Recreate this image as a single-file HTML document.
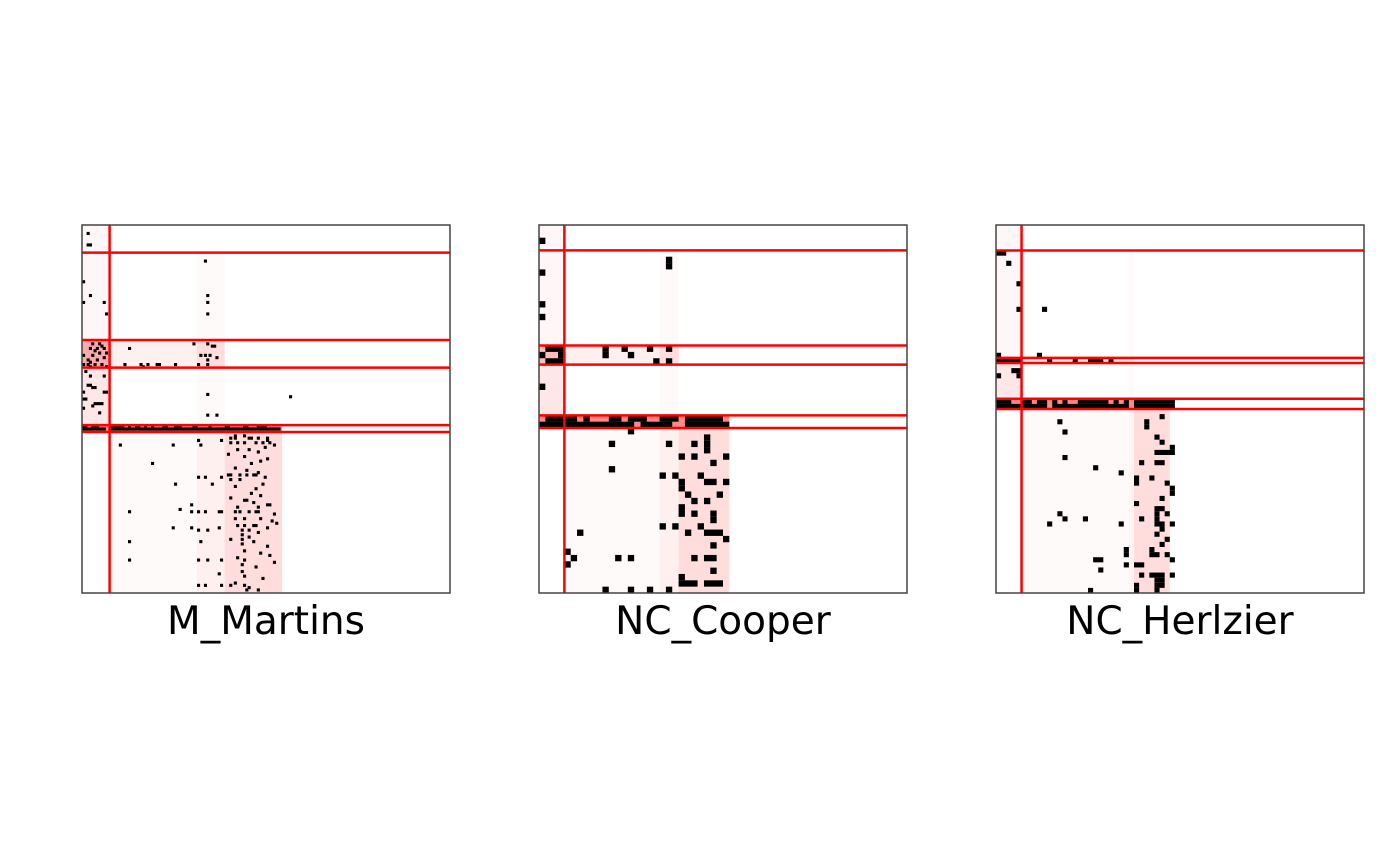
<!DOCTYPE html>
<html><head><meta charset="utf-8">
<style>
html,body{margin:0;padding:0;background:#fff;width:1400px;height:865px;overflow:hidden;}
svg{display:block;}
text{font-family:"DejaVu Sans","Liberation Sans",sans-serif;}
</style></head>
<body>
<svg id="chart" width="1400" height="865" viewBox="0 0 1400 865" xmlns="http://www.w3.org/2000/svg"></svg>
<script>
// ---- data ----
const panelTitles = ["M_Martins", "NC_Cooper", "NC_Herlzier"];
const gridSizes = [160, 58, 72];
const rowLines1 = [12, 50, 62, 87, 90];
const colLines1 = [12];
const rowLines2 = [4, 19, 22, 30, 32];
const colLines2 = [4];
const rowLines3 = [5, 26, 27, 34, 36];
const colLines3 = [5];
// shaded blocks: [rowStart,rowEnd,colStart,colEnd,intensity 0..1]
const shades1 = [[0,50,0,12,0.05],[50,62,0,12,0.5],[62,87,0,12,0.14],[12,160,50,62,0.03],[50,62,12,62,0.09],[50,62,50,62,0.2],[87,90,0,87,0.7],[90,160,12,50,0.03],[90,160,50,62,0.09],[90,160,62,87,0.2]];
const shades2 = [[0,19,0,4,0.05],[19,22,0,4,0.4],[22,30,0,4,0.14],[4,160,19,22,0.03],[19,22,4,22,0.09],[19,22,19,22,0.2],[30,32,0,30,0.7],[32,58,4,19,0.03],[32,58,19,22,0.09],[32,58,22,30,0.2]];
const shades3 = [[0,26,0,5,0.05],[26,27,0,5,0.4],[27,34,0,5,0.14],[5,72,26,27,0.03],[26,27,5,27,0.09],[34,36,0,34,0.7],[36,72,5,26,0.03],[36,72,26,27,0.07],[36,72,27,34,0.2]];
// dots: [row,col,(runLength)]
const dots1 = [[3,2],[8,2,2],[24,0],[30,3],[33,0],[33,9],[38,10],[15,53],[30,54],[33,54],[38,54],
[51,4],[51,7],[52,8],[53,3],[53,6],[53,9],[54,5],[55,7],[55,10],[56,0],[56,4],[57,9],[58,2],[58,6],[59,3],[60,0],[60,2],[60,5],[60,8],[61,3],[61,10],
[53,20],[51,48],[51,54],[52,56,2],[56,51],[56,53],[56,55],[57,58],[58,54],[60,18],[60,25],[60,28],[60,32,2],[60,40],[60,50],[60,54],[61,26],
[63,1],[65,3],[65,9],[69,2,2],[70,4,2],[72,0],[72,9,2],[75,0,2],[77,5,4],[78,4],[79,0],[81,7],[73,54],[74,90],[82,54],[82,58],
[87,0,2],[87,4,3],[87,12,6],[87,20],[87,23,2],[87,27],[87,30],[87,35,2],[87,40,3],[87,48,2],[87,55],[87,62,2],[87,70,2],[87,76,4],[88,0,10],[88,12,74],
[95,16],[103,30],[95,39],[93,50],[95,51],[93,60],[124,20],[112,40],[109,50],[109,53],[112,56],[109,60],[121,47],[123,42],[124,47],[124,50],[124,53],[124,59,2],[131,39],[131,47],[132,50],[132,54],[131,59],[137,20],[137,51],[145,20],[145,50],[145,54],[145,60],[151,59],[156,50],[156,53],[156,60],
[91,66],[91,70],[92,64],[92,66],[92,72,2],[92,76],[92,80],[93,80],[94,64],[94,67],[94,70],[94,75],[94,78],[94,81],[95,83],[96,79],[97,67],[97,72],[98,76],[99,63],[100,70],[101,80],[102,77],[103,73],[105,66],[106,71],[107,76],[108,63,2],[108,68],[108,71],[108,74,2],[109,79],[110,64],[110,68],[112,78],[113,66],[114,75],[116,73],[117,77],[118,64],[119,70,2],[120,74],[121,80,2],[122,67],[122,76],[124,66],[124,68],[124,72],[124,75,2],[125,83],[127,66],[127,70],[127,77],[128,82],[129,84],[130,67],[130,70],[130,74,2],[131,80],[132,69],[132,72],[133,76],[134,69],[135,72],[136,64],[136,69],[137,74],[138,69],[139,80],[141,70],[142,77],[143,81],[144,67],[145,70],[146,83],[147,69],[148,75],[150,69],[152,70],[153,78],[155,66],[156,64],[156,70],[157,72],[158,71],[158,76]];
const dots2 = [[2,0],[5,20],[6,20],[7,0],[12,0],[14,0],
[19,1,3],[20,0],[20,3],[21,1,3],[19,10],[20,10],[19,13],[20,14],[19,17],[21,18],[19,20],[21,20],[25,0],
[30,1,3],[30,4,2],[30,7],[30,11,2],[30,14,3],[30,19,3],[30,23,6],[31,0,15],[31,16,5],[31,23,7],
[32,14],[34,11],[34,20],[34,24],[33,26],[34,26],[35,26],[36,22],[36,24],[36,29],[37,27],[38,11],[39,19],[39,21],[39,25],[40,22],[41,22],[40,26,2],[40,29],[42,23],[42,28],[43,24],[43,26],[44,22],[45,22],[45,24],[45,27],[46,27],[47,19],[47,21],[47,25],[48,6],[48,23],[48,26,3],[49,29],[50,27],[51,4],[52,5],[53,4],[52,12],[52,14],[52,24],[52,26,2],[54,27],[55,22],[56,22,3],[56,26,3],[57,10],[57,14],[57,17],[57,20]];
const dots3 = [[5,0,2],[7,2],[11,4],[16,4],[16,9],[25,0],[25,8],
[26,0,5],[26,10],[26,15],[26,18,3],[26,22],[28,3,2],[29,0],[29,4],
[34,0,3],[34,5,2],[34,8,2],[34,11],[34,13],[34,16,6],[34,23],[34,25],[34,27,8],[35,0,10],[35,11,15],[35,27,8],
[37,32],[38,12],[38,29],[39,29],[40,13],[41,31],[42,32],[43,34],[44,31,4],[45,13],[46,28],[46,31,2],[47,19],[48,24],[49,27],[50,27],[49,30],[50,33],[51,34],[52,34],[53,32],[54,27],[55,31,2],[56,31],[56,12],[56,33],[57,13],[57,17],[57,28],[57,31],[58,31,2],[58,34],[58,10],[58,24],[59,32],[60,31],[61,33],[62,32],[63,25],[64,25],[63,30],[64,30,2],[64,33],[65,34],[65,19,2],[66,25],[66,27,2],[67,20],[68,28],[68,30,3],[69,31,2],[70,31,2],[68,34],[71,18],[70,27],[71,27],[71,31]];

// ---- layout ----
const svg = document.getElementById('chart');
const NS = 'http://www.w3.org/2000/svg';
const panelLeft = [82, 539, 996];
const panelTop = 225, panelSize = 368;
const dotScale = [1.35, 1, 1];
const rowLinesAll = [rowLines1, rowLines2, rowLines3];
const colLinesAll = [colLines1, colLines2, colLines3];
const shadesAll = [shades1, shades2, shades3];
const dotsAll = [dots1, dots2, dots3];

function mk(tag, attrs, parent){
  const e = document.createElementNS(NS, tag);
  for (const k in attrs) e.setAttribute(k, attrs[k]);
  parent.appendChild(e);
  return e;
}
function shadeColor(t){
  const gb = Math.round(255 - t * 170);
  return 'rgb(255,' + gb + ',' + gb + ')';
}

for (let p = 0; p < 3; p++) {
  const n = gridSizes[p];
  const cell = panelSize / n;
  const dsz = cell * dotScale[p];
  const x0 = panelLeft[p];
  const xs = c => x0 + c * cell;
  const ys = r => panelTop + r * cell;
  const g = mk('g', {}, svg);
  
  
  const clip = mk('clipPath', {id: 'clip' + p}, g);
  mk('rect', {x: x0, y: panelTop, width: panelSize, height: panelSize}, clip);
  const inner = mk('g', {'clip-path': 'url(#clip' + p + ')'}, g);

  shadesAll[p].forEach(s => {
    const r = mk('rect', {x: xs(s[2]), y: ys(s[0]), width: (s[3]-s[2])*cell, height: (s[1]-s[0])*cell, fill: shadeColor(s[4])}, inner);
    
    
  });
  dotsAll[p].forEach(d => {
    const len = d[2] || 1;
    const r = mk('rect', {x: xs(d[1]), y: ys(d[0]), width: (len-1)*cell + dsz, height: dsz, fill: '#000'}, inner);
    
    
  });
  rowLinesAll[p].forEach(v => {
    const l = mk('line', {x1: x0, x2: x0 + panelSize, y1: ys(v), y2: ys(v), stroke: '#ff0000', 'stroke-width': 2.5}, inner);
    
    
  });
  colLinesAll[p].forEach(v => {
    const l = mk('line', {x1: xs(v), x2: xs(v), y1: panelTop, y2: panelTop + panelSize, stroke: '#ff0000', 'stroke-width': 2.5}, inner);
    
    
  });
  const fr = mk('rect', {x: x0, y: panelTop, width: panelSize, height: panelSize, fill: 'none', stroke: '#444', 'stroke-width': 1.5}, g);
  
  
  const t = mk('text', {x: x0 + panelSize/2, y: 634, 'text-anchor': 'middle', 'font-size': 39, fill: '#000'}, g);
  t.textContent = panelTitles[p];
  
  
}
</script>
</body></html>
